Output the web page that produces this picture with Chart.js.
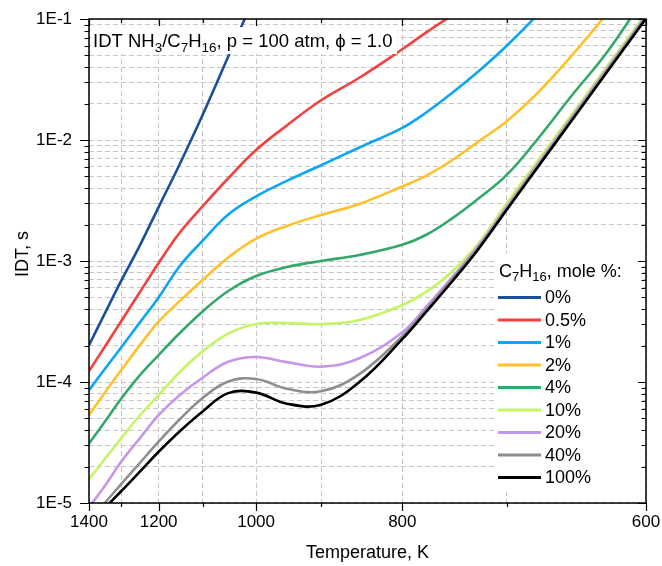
<!DOCTYPE html>
<html>
<head>
<meta charset="utf-8">
<script src="https://cdn.jsdelivr.net/npm/chart.js@4.4.1/dist/chart.umd.min.js"></script>
<style>
  html, body { margin: 0; padding: 0; background: #ffffff; }
  canvas { display: block; }
</style>
</head>
<body>
<canvas id="chart" width="662" height="566"></canvas>
<script>
// Ignition delay times of NH3 / n-heptane blends, p = 100 atm, phi = 1.0
const temperatures = [1400, 1350, 1300, 1250, 1200, 1150, 1100, 1050, 1000, 950, 900, 850, 800, 775, 750, 725, 700, 675, 650, 625, 600];

// IDT in seconds for each n-heptane mole fraction
const idt0   = [2.02e-4, 3.64e-4, 6.85e-4, 1.31e-3, 2.79e-3, 6.34e-3, 1.63e-2, 4.90e-2, 1.64e-1, null, null, null, null, null, null, null, null, null, null, null, null];
const idt05  = [1.23e-4, 1.94e-4, 3.18e-4, 5.41e-4, 9.62e-4, 1.72e-3, 2.85e-3, 4.83e-3, 8.28e-3, 1.32e-2, 2.13e-2, 3.27e-2, 5.62e-2, 7.71e-2, 1.06e-1, 1.48e-1, null, null, null, null, null];
const idt1   = [8.57e-5, 1.27e-4, 1.93e-4, 3.05e-4, 5.00e-4, 9.10e-4, 1.48e-3, 2.42e-3, 3.42e-3, 4.59e-3, 6.19e-3, 8.67e-3, 1.26e-2, 1.68e-2, 2.41e-2, 3.66e-2, 6.01e-2, 1.09e-1, 2.20e-1, null, null];
const idt2   = [5.32e-5, 8.09e-5, 1.25e-4, 1.98e-4, 3.15e-4, 4.68e-4, 7.00e-4, 1.07e-3, 1.53e-3, 1.95e-3, 2.40e-3, 2.96e-3, 4.13e-3, 5.05e-3, 6.71e-3, 9.66e-3, 1.43e-2, 2.45e-2, 4.91e-2, 1.11e-1, 2.90e-1];
const idt4   = [3.10e-5, 4.65e-5, 7.28e-5, 1.12e-4, 1.67e-4, 2.54e-4, 3.85e-4, 5.65e-4, 7.52e-4, 8.91e-4, 1.00e-3, 1.12e-3, 1.36e-3, 1.64e-3, 2.22e-3, 3.26e-3, 5.15e-3, 1.02e-2, 2.29e-2, 5.31e-2, 1.58e-1];
const idt10  = [1.58e-5, 2.29e-5, 3.43e-5, 5.21e-5, 7.78e-5, 1.21e-4, 1.80e-4, 2.51e-4, 3.01e-4, 3.07e-4, 3.01e-4, 3.25e-4, 4.33e-4, 5.55e-4, 8.04e-4, 1.38e-3, 3.00e-3, 6.70e-3, 1.59e-2, 4.06e-2, 1.11e-1];
const idt20  = [9.23e-6, 1.37e-5, 2.19e-5, 3.37e-5, 5.32e-5, 7.80e-5, 1.09e-4, 1.47e-4, 1.61e-4, 1.46e-4, 1.34e-4, 1.57e-4, 2.58e-4, 4.16e-4, 7.16e-4, 1.32e-3, 2.81e-3, 6.32e-3, 1.51e-2, 3.87e-2, 1.07e-1];
const idt40  = [7.11e-6, 9.95e-6, 1.43e-5, 2.11e-5, 3.21e-5, 4.92e-5, 7.41e-5, 1.01e-4, 1.06e-4, 8.81e-5, 8.39e-5, 1.16e-4, 2.39e-4, 3.93e-4, 6.92e-4, 1.28e-3, 2.72e-3, 6.12e-3, 1.46e-2, 3.75e-2, 1.04e-1];
const idt100 = [6.61e-6, 9.04e-6, 1.25e-5, 1.79e-5, 2.65e-5, 3.92e-5, 5.74e-5, 8.09e-5, 8.17e-5, 6.62e-5, 6.50e-5, 9.98e-5, 2.26e-4, 3.78e-4, 6.61e-4, 1.24e-3, 2.65e-3, 5.96e-3, 1.42e-2, 3.65e-2, 1.01e-1];

const seriesLabels = ['0%', '0.5%', '1%', '2%', '4%', '10%', '20%', '40%', '100%'];
const seriesValues = [idt0, idt05, idt1, idt2, idt4, idt10, idt20, idt40, idt100];
const seriesColors = ['#1b4f9c', '#f2413f', '#0ea5f5', '#ffc12b', '#36a76a', '#c6f466', '#c596ea', '#8e8e8e', '#000000'];

// Axis ticks: temperature axis is linear in 1000/T
const xTickTemps  = [1400, 1300, 1200, 1100, 1000, 900, 800, 700, 600];
const xTickLabels = ['1400', '', '1200', '', '1000', '', '800', '', '600'];
const yDecades      = [1e-5, 1e-4, 1e-3, 1e-2, 1e-1];
const yDecadeLabels = ['1E-5', '1E-4', '1E-3', '1E-2', '1E-1'];

const FONT = '"Liberation Sans", Arial, Helvetica, sans-serif';

const yTickValues = [];
for (let d = 0; d < yDecades.length - 1; d++) {
  for (let m = 1; m <= 9; m++) yTickValues.push(m * yDecades[d]);
}
yTickValues.push(yDecades[yDecades.length - 1]);

function decadeLabel(v) {
  for (let i = 0; i < yDecades.length; i++) {
    if (Math.abs(v / yDecades[i] - 1) < 1e-6) return yDecadeLabels[i];
  }
  return '';
}

// Draw text made of normal and subscript runs, left aligned at baseline y
function drawRich(ctx, parts, x, y, size, subSize, subDrop) {
  ctx.textAlign = 'left';
  ctx.textBaseline = 'alphabetic';
  let cx = x;
  for (const p of parts) {
    ctx.font = (p.sub ? subSize : size) + 'px ' + FONT;
    ctx.fillText(p.t, cx, p.sub ? y + subDrop : y);
    cx += ctx.measureText(p.t).width;
  }
  return cx;
}

const datasets = seriesValues.map((vals, i) => ({
  label: seriesLabels[i],
  data: temperatures.map((t, j) => ({ x: 1000 / t, y: vals[j] })),
  borderColor: seriesColors[i],
  backgroundColor: seriesColors[i],
  borderWidth: 2.6,
  pointRadius: 0,
  tension: 0.4,
  fill: false,
  spanGaps: false,
  clip: 0,
  order: seriesValues.length - 1 - i
}));

const decorations = {
  id: 'decorations',
  afterDatasetsDraw(chart) {
    const { ctx, chartArea: a, scales: { x, y } } = chart;
    ctx.save();

    // Title inside the plot
    ctx.fillStyle = '#ffffff';
    ctx.fillRect(91, 27, 306, 27);
    ctx.fillStyle = '#000000';
    drawRich(ctx, [
      { t: 'IDT NH' }, { t: '3', sub: true }, { t: '/C' }, { t: '7', sub: true },
      { t: 'H' }, { t: '16', sub: true }, { t: ', p = 100 atm, \u03D5 = 1.0' }
    ], 93, 47, 18.5, 13.5, 5);

    // Legend
    ctx.fillStyle = '#ffffff';
    ctx.fillRect(495, 254, 148, 238);
    ctx.fillStyle = '#000000';
    drawRich(ctx, [
      { t: 'C' }, { t: '7', sub: true }, { t: 'H' }, { t: '16', sub: true }, { t: ', mole %:' }
    ], 499, 277, 18, 13, 4);
    seriesLabels.forEach((lab, i) => {
      const ry = 297.5 + i * 22.5;
      ctx.strokeStyle = seriesColors[i];
      ctx.lineWidth = 3;
      ctx.beginPath();
      ctx.moveTo(498, ry);
      ctx.lineTo(541, ry);
      ctx.stroke();
      ctx.fillStyle = '#000000';
      ctx.font = '18px ' + FONT;
      ctx.textAlign = 'left';
      ctx.textBaseline = 'middle';
      ctx.fillText(lab, 545, ry + 1);
    });

    // Frame and tick marks
    ctx.strokeStyle = '#000000';
    ctx.lineWidth = 1.5;
    ctx.strokeRect(a.left, a.top, a.right - a.left, a.bottom - a.top);
    ctx.lineWidth = 1.2;
    ctx.beginPath();
    xTickTemps.forEach((t, i) => {
      const px = Math.round(x.getPixelForValue(1000 / t)) + 0.5;
      const major = xTickLabels[i] !== '';
      ctx.moveTo(px, a.bottom);
      ctx.lineTo(px, a.bottom + (major ? 8 : 4));
      ctx.moveTo(px, a.top);
      ctx.lineTo(px, a.top + (major ? 7 : 4));
    });
    yTickValues.forEach(v => {
      const py = Math.round(y.getPixelForValue(v)) + 0.5;
      const major = decadeLabel(v) !== '';
      ctx.moveTo(a.left, py);
      ctx.lineTo(a.left - (major ? 9 : 4.5), py);
      ctx.moveTo(a.right, py);
      ctx.lineTo(a.right - (major ? 8 : 4.5), py);
    });
    ctx.stroke();

    // Axis titles
    ctx.fillStyle = '#000000';
    ctx.font = '18px ' + FONT;
    ctx.textAlign = 'center';
    ctx.textBaseline = 'middle';
    ctx.fillText('Temperature, K', (a.left + a.right) / 2, 553);
    ctx.save();
    ctx.translate(23, 254);
    ctx.rotate(-Math.PI / 2);
    ctx.fillText('IDT, s', 0, 0);
    ctx.restore();

    ctx.restore();
  }
};

new Chart(document.getElementById('chart'), {
  type: 'line',
  data: { datasets },
  options: {
    responsive: false,
    animation: false,
    devicePixelRatio: 1,
    layout: { padding: { left: 0, right: 16, top: 19, bottom: 0 } },
    plugins: {
      legend: { display: false },
      tooltip: { enabled: false }
    },
    scales: {
      x: {
        type: 'linear',
        position: 'bottom',
        min: 1000 / 1400,
        max: 1000 / 600,
        afterBuildTicks: s => { s.ticks = xTickTemps.map(t => ({ value: 1000 / t })); },
        afterFit: s => { s.height = 63; s.paddingLeft = 0; s.paddingRight = 0; },
        ticks: {
          autoSkip: false, maxRotation: 0, minRotation: 0, padding: 9,
          color: '#000000', font: { family: FONT, size: 17 },
          callback: (v, i) => xTickLabels[i]
        },
        grid: { color: '#c6c6c6', lineWidth: 1, drawTicks: false },
        border: { display: false, dash: [5, 3] }
      },
      y: {
        type: 'logarithmic',
        position: 'left',
        min: 1e-5,
        max: 1e-1,
        afterBuildTicks: s => { s.ticks = yTickValues.map(v => ({ value: v })); },
        afterFit: s => { s.width = 89; s.paddingTop = 0; s.paddingBottom = 0; },
        ticks: {
          autoSkip: false, padding: 17,
          color: '#000000', font: { family: FONT, size: 17 },
          callback: v => decadeLabel(v)
        },
        grid: { color: '#c6c6c6', lineWidth: 1, drawTicks: false },
        border: { display: false, dash: [5, 3] }
      }
    }
  },
  plugins: [decorations]
});
</script>
</body>
</html>
